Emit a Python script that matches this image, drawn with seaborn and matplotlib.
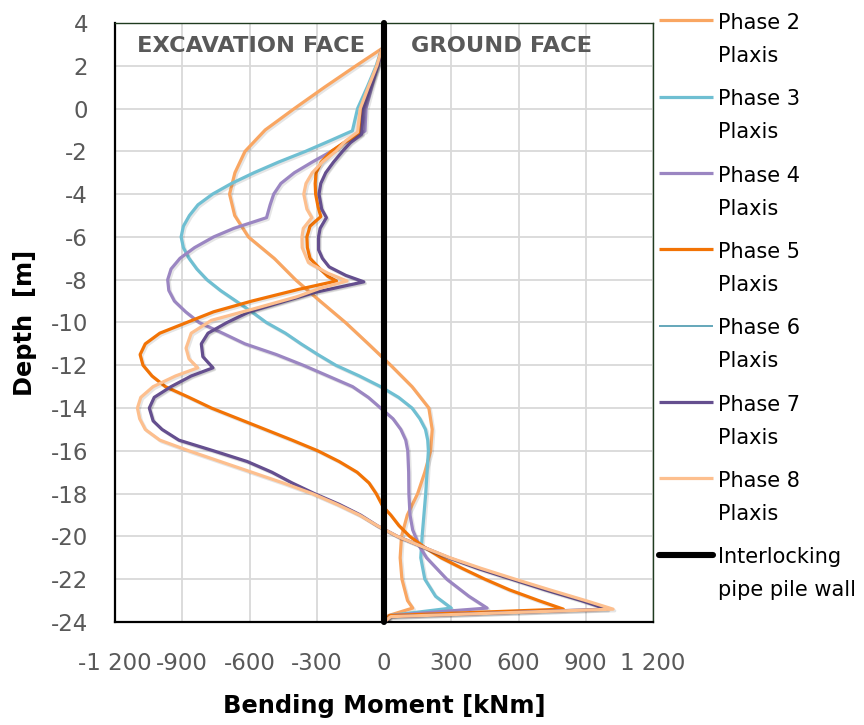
import matplotlib
matplotlib.use("Agg")
import matplotlib.pyplot as plt
import matplotlib.patheffects as pe
import seaborn as sns

# ---------------- data ----------------
p2_depth = [2.8, 2.0, 1.0, 0.0, -1.0, -2.0, -3.0, -4.0, -5.0, -6.0, -7.0, -8.0, -9.0, -10.0,
            -11.0, -12.0, -13.0, -14.0, -15.0, -16.0, -17.0, -18.0, -19.0, -20.0, -21.0,
            -22.0, -23.0, -23.35, -23.7, -24.0]
p2_moment = [-10, -125, -265, -400, -530, -620, -665, -689, -666, -605, -490, -395, -285, -172,
             -70, 30, 125, 200, 215, 208, 182, 150, 104, 78, 72, 80, 105, 128, 20, 0]

p3_depth = [2.8, 2.0, 1.0, 0.0, -1.04, -1.5, -2.0, -2.5, -3.0, -3.5, -4.0, -4.5, -5.0, -5.5,
            -6.0, -6.5, -7.0, -7.5, -8.0, -8.5, -9.0, -9.5, -10.0, -10.5, -11.0, -11.5, -12.0,
            -12.5, -13.0, -13.5, -14.0, -14.5, -15.0, -15.5, -16.0, -17.0, -18.0, -19.0, -20.0,
            -21.0, -22.0, -22.8, -23.35, -23.7, -24.0]
p3_moment = [-10, -35, -75, -118, -141, -240, -350, -470, -580, -680, -765, -830, -868, -895,
             -905, -895, -870, -835, -790, -730, -660, -590, -525, -440, -370, -295, -215,
             -110, -15, 65, 125, 160, 185, 195, 198, 192, 186, 178, 170,
             164, 182, 230, 300, 25, 0]

p4_depth = [2.8, 2.0, 1.0, 0.0, -1.05, -1.5, -2.0, -2.5, -3.0, -3.5, -4.0, -4.5, -5.1, -5.6,
            -6.0, -6.5, -7.0, -7.5, -8.0, -8.5, -9.0, -9.5, -10.0, -10.5, -11.0, -11.5, -12.0,
            -12.5, -13.0, -13.5, -14.0, -14.5, -15.0, -15.5, -16.0, -17.0, -18.0, -19.0, -19.7,
            -20.5, -21.0, -22.0, -22.8, -23.35, -23.7, -24.0]
p4_moment = [-10, -28, -55, -80, -85, -160, -235, -320, -400, -460, -492, -508, -524, -670,
             -760, -845, -910, -950, -965, -960, -935, -885, -825, -720, -620, -480, -360,
             -250, -140, -70, -15, 40, 75, 97, 106, 110, 111, 116, 128,
             160, 190, 280, 379, 460, 25, 0]

p5_depth = [2.8, 2.0, 1.0, 0.0, -1.2, -1.6, -2.0, -2.5, -3.0, -3.5, -4.0, -4.6, -5.05, -5.5,
            -6.0, -6.5, -7.0, -7.5, -7.85, -8.06, -8.45, -9.0, -9.5, -10.0, -10.5, -11.0,
            -11.5, -12.0, -12.5, -13.0, -13.5, -14.0, -14.5, -15.0, -15.5, -16.0, -16.5, -17.0,
            -17.5, -18.0, -18.6, -19.0, -19.5, -20.0, -20.5, -21.0, -21.5, -22.0, -22.5, -23.0,
            -23.4, -23.7, -24.0]
p5_moment = [-10, -30, -65, -98, -110, -180, -235, -280, -303, -307, -305, -294, -282, -330,
             -344, -342, -330, -285, -250, -212, -380, -590, -760, -880, -1000, -1065,
             -1088, -1075, -1035, -975, -870, -770, -650, -530, -410, -295, -200, -120,
             -67, -35, -5, 30, 67, 115, 180, 255, 350, 450, 560, 690,
             800, 25, 0]

p6_depth = [2.8, 2.0, 1.0, 0.0, -1.2, -1.6, -2.0, -2.5, -3.0, -3.5, -4.0, -4.7, -5.1, -5.6,
            -6.0, -6.6, -7.0, -7.4, -7.8, -8.1, -8.6, -9.0, -9.5, -10.0, -10.5, -11.0, -11.6,
            -12.12, -12.5, -13.0, -13.5, -14.0, -14.6, -15.0, -15.5, -16.0, -16.5, -17.0, -17.5,
            -18.0, -18.5, -19.0, -19.5, -20.0, -20.5, -21.0, -21.5, -22.0, -22.5, -23.0, -23.4,
            -23.75, -24.0]
p6_moment = [-10, -28, -60, -92, -100, -150, -185, -225, -260, -282, -290, -278, -257, -285,
             -292, -292, -275, -245, -170, -90, -310, -440, -600, -700, -785, -815, -808,
             -763, -860, -950, -1025, -1047, -1030, -990, -915, -760, -610, -500, -410,
             -310, -200, -105, -30, 60, 175, 290, 420, 570, 720, 880, 995,
             30, 0]

p7_depth = [2.8, 2.0, 1.0, 0.0, -1.2, -1.6, -2.0, -2.5, -3.0, -3.5, -4.0, -4.7, -5.1, -5.6,
            -6.0, -6.6, -7.0, -7.4, -7.8, -8.1, -8.6, -9.0, -9.5, -10.0, -10.5, -11.0, -11.6,
            -12.12, -12.5, -13.0, -13.5, -14.0, -14.6, -15.0, -15.5, -16.0, -16.5, -17.0, -17.5,
            -18.0, -18.5, -19.0, -19.5, -20.0, -20.5, -21.0, -21.5, -22.0, -22.5, -23.0, -23.4,
            -23.75, -24.0]
p7_moment = [-10, -28, -60, -92, -100, -150, -185, -225, -260, -282, -290, -278, -257, -285,
             -292, -292, -275, -245, -170, -90, -310, -440, -600, -700, -785, -815, -808,
             -763, -860, -950, -1025, -1047, -1030, -990, -915, -760, -610, -500, -410,
             -310, -200, -105, -30, 60, 175, 290, 420, 570, 720, 880, 995,
             30, 0]

p8_depth = [2.8, 2.0, 1.0, 0.0, -1.1, -1.5, -2.0, -2.5, -3.0, -3.5, -4.0, -4.7, -5.1, -5.6,
            -6.0, -6.5, -7.2, -7.7, -8.06, -8.4, -8.8, -9.3, -9.9, -10.5, -11.2, -11.7, -12.12,
            -12.5, -13.0, -13.5, -14.0, -14.5, -15.0, -15.5, -16.0, -16.5, -17.0, -17.5, -18.0,
            -18.5, -19.0, -19.5, -20.0, -20.5, -21.0, -21.5, -22.0, -22.5, -23.0, -23.4,
            -23.75, -24.0]
p8_moment = [-10, -32, -70, -106, -118, -170, -215, -275, -320, -348, -358, -344, -322, -360,
             -366, -365, -337, -250, -165, -285, -390, -560, -770, -860, -883, -870, -831,
             -930, -1030, -1085, -1100, -1090, -1065, -1000, -870, -730, -590, -450, -320,
             -210, -110, -30, 60, 175, 295, 435, 585, 740, 900, 1022,
             30, 0]

wall_depth = [4, -24]
wall_moment = [0, 0]

series_labels = ["Phase 2\nPlaxis", "Phase 3\nPlaxis", "Phase 4\nPlaxis", "Phase 5\nPlaxis",
                 "Phase 6\nPlaxis", "Phase 7\nPlaxis", "Phase 8\nPlaxis",
                 "Interlocking\npipe pile wall"]
x_ticks = [-1200, -900, -600, -300, 0, 300, 600, 900, 1200]
x_tick_labels = ["-1 200", "-900", "-600", "-300", "0", "300", "600", "900", "1 200"]
y_ticks = [4, 2, 0, -2, -4, -6, -8, -10, -12, -14, -16, -18, -20, -22, -24]

# ---------------- styling ----------------
sns.set_theme(style="white")
plt.rcParams["font.family"] = ["DejaVu Sans"]
plt.rcParams["axes.unicode_minus"] = False

colors = ["#F9A662", "#6FBFD2", "#9B86C2", "#F27305", "#4A98AE", "#654F8F", "#FDBF8E", "#000000"]
widths = [2.3, 2.3, 2.3, 2.3, 1.2, 2.3, 2.3, 4.4]

fig = plt.figure(figsize=(8.64, 7.25), dpi=100)
ax = fig.add_axes([0.1331, 0.1421, 0.6227, 0.8262])

datasets = [(p2_moment, p2_depth), (p3_moment, p3_depth), (p4_moment, p4_depth),
            (p5_moment, p5_depth), (p6_moment, p6_depth), (p7_moment, p7_depth),
            (p8_moment, p8_depth), (wall_moment, wall_depth)]

handles = []
shadow = [pe.SimpleLineShadow(offset=(1.2, -1.2), shadow_color="black", alpha=0.10), pe.Normal()]
for i, ((m, d), c, w, lab) in enumerate(zip(datasets, colors, widths, series_labels)):
    sns.lineplot(x=m, y=d, sort=False, estimator=None, color=c, linewidth=w, ax=ax,
                 legend=False, zorder=3 + i)
    ln = ax.lines[-1]
    ln.set_solid_capstyle("round" if i == 7 else "butt")
    ln.set_solid_joinstyle("round")
    if i < 7:
        ln.set_path_effects(shadow)
    ln.set_clip_on(i != 7)
    handles.append(ln)

ax.set_xlim(-1200, 1200)
ax.set_ylim(-24, 4)
ax.set_xticks(x_ticks)
ax.set_xticklabels(x_tick_labels)
ax.set_yticks(y_ticks)
ax.grid(True, color="#D9D9D9", linewidth=1.3)
ax.set_axisbelow(True)

for side in ["left", "bottom"]:
    ax.spines[side].set_color("black")
    ax.spines[side].set_linewidth(1.6)
for side in ["top", "right"]:
    ax.spines[side].set_color("#1F3B1F")
    ax.spines[side].set_linewidth(1.0)

ax.tick_params(axis="both", which="major", direction="inout", length=11, width=1.6,
               color="black", labelsize=16.5, labelcolor="#595959", pad=14)
ax.tick_params(axis="x", pad=16)

ax.set_xlabel("Bending Moment [kNm]", fontsize=17.4, fontweight="bold", color="black")
ax.set_ylabel("Depth  [m]", fontsize=17.4, fontweight="bold", color="black")
ax.xaxis.set_label_coords(0.5, -0.14)
ax.xaxis.label.set_va("center")
ax.yaxis.set_label_coords(-0.167, 0.5)
ax.yaxis.label.set_va("center")

ax.text(-1102, 2.92, "EXCAVATION FACE", fontsize=16.2, fontweight="bold", color="#595959",
        ha="left", va="center", zorder=20)
ax.text(120, 2.92, "GROUND FACE", fontsize=16.2, fontweight="bold", color="#595959",
        ha="left", va="center", zorder=20)

leg = ax.legend(handles, series_labels, loc="upper left", bbox_to_anchor=(0.7627, 0.982),
                bbox_transform=fig.transFigure, frameon=False, fontsize=15,
                handlelength=2.6, handletextpad=0.25, labelspacing=1.13,
                borderaxespad=0, borderpad=0)
for t in leg.get_texts():
    t.set_linespacing(1.8)
    t.set_color("black")
for col in leg._legend_handle_box.get_children():
    for row in col.get_children():
        row.align = "top"
for lh in leg.legend_handles:
    lh.set_path_effects([])

fig.savefig("out.png", dpi=100)
